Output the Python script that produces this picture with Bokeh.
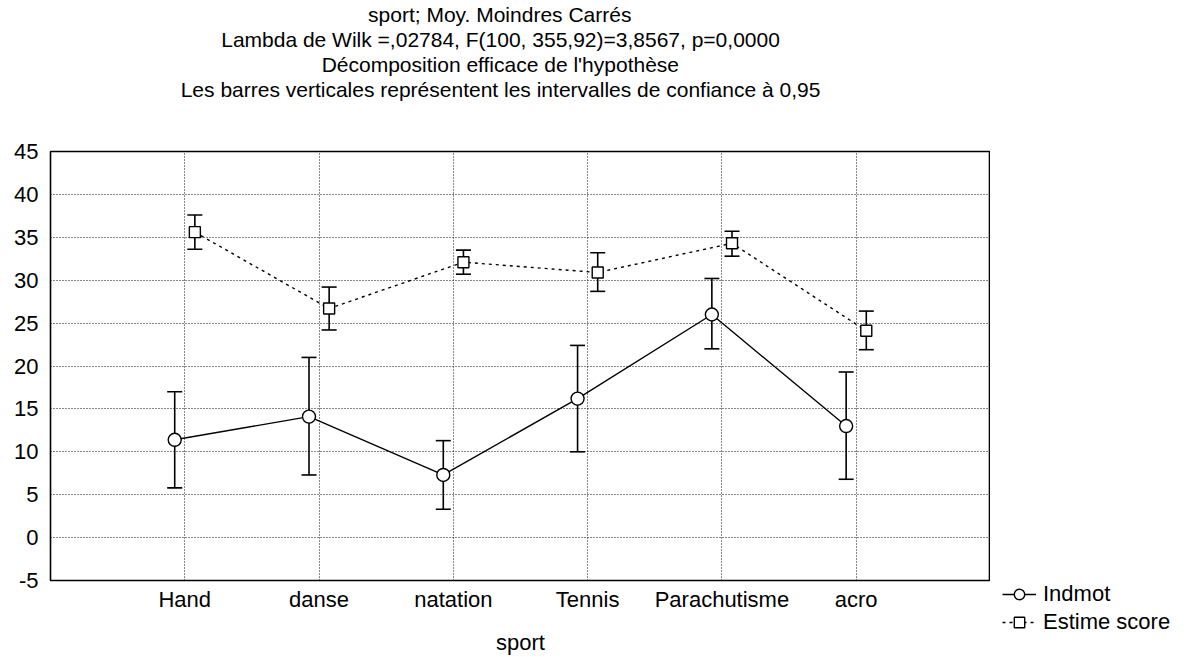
from bokeh.plotting import figure
from bokeh.layouts import row, column
from bokeh.models import (Range1d, ColumnDataSource, Whisker, TeeHead, Legend,
                          LegendItem, Title, FixedTicker)
from bokeh.embed import file_html
from bokeh.resources import INLINE

# ---- data ----
sports = ["Hand", "danse", "natation", "Tennis", "Parachutisme", "acro"]
indmot_mean = [11.4, 14.1, 7.3, 16.2, 26.0, 13.0]
indmot_low = [5.8, 7.3, 3.3, 10.0, 22.0, 6.8]
indmot_high = [17.0, 21.0, 11.3, 22.4, 30.2, 19.3]
estime_mean = [35.6, 26.7, 32.1, 30.9, 34.3, 24.1]
estime_low = [33.6, 24.2, 30.7, 28.7, 32.8, 21.9]
estime_high = [37.6, 29.2, 33.5, 33.2, 35.7, 26.4]
y_ticks = [-5, 0, 5, 10, 15, 20, 25, 30, 35, 40, 45]
series_names = ["Indmot", "Estime score"]
title_lines = [
    "sport; Moy. Moindres Carrés",
    "Lambda de Wilk =,02784, F(100, 355,92)=3,8567, p=0,0000",
    "Décomposition efficace de l'hypothèse",
    "Les barres verticales représentent les intervalles de confiance à 0,95",
]

FONT = "Liberation Sans"
FS = "22px"
TFS_PX = 21
TFS = f"{TFS_PX}px"
pos = [i + 1 for i in range(len(sports))]
shift = 0.075

# Arial / Liberation Sans advance widths (1/1000 em), used to centre titles
_W = {c: 556 for c in "abdeghnopqu0123456789éèà"}
_W.update({c: 500 for c in "cksvxyz"})
_W.update({c: 222 for c in "ijl"})
_W.update({"f": 278, "t": 278, "r": 333, "m": 833, "w": 722, " ": 278,
           ";": 278, ".": 278, ",": 278, "=": 584, "(": 333, ")": 333,
           "'": 191, "L": 556, "M": 833, "C": 722, "D": 722, "F": 611,
           "W": 944})


def text_width(s, px):
    return sum(_W.get(ch, 556) for ch in s) * px / 1000.0


FRAME_LEFT = 50
TITLE_CENTER = 500

src_ind = ColumnDataSource(dict(x=[p - shift for p in pos], y=indmot_mean,
                                lo=indmot_low, hi=indmot_high))
src_est = ColumnDataSource(dict(x=[p + shift for p in pos], y=estime_mean,
                                lo=estime_low, hi=estime_high))
sources = [src_ind, src_est]

p = figure(width=990, height=657, output_backend="svg", toolbar_location=None,
           x_range=Range1d(0, 7), y_range=Range1d(-5, 45),
           min_border_left=FRAME_LEFT, min_border_right=0, min_border_bottom=74,
           min_border_top=0, title=title_lines[0])


def title_offset(s):
    return TITLE_CENTER - text_width(s, TFS_PX) / 2 - FRAME_LEFT


p.title.align = "left"
p.title.offset = title_offset(title_lines[0])
p.title.text_font = FONT
p.title.text_font_size = TFS
p.title.text_font_style = "normal"
p.title.text_color = "black"
p.title.standoff = 0
# titles added to "above" stack outward from the frame: spacer first
p.add_layout(Title(text=" ", text_font_size="44px", standoff=0), "above")
for line in reversed(title_lines[1:]):
    p.add_layout(Title(text=line, align="left", offset=title_offset(line),
                       text_font=FONT, text_font_size=TFS, text_color="black",
                       text_font_style="normal", standoff=0), "above")

p.outline_line_color = "black"
p.outline_line_width = 1.6
p.background_fill_color = "white"
p.border_fill_color = "white"

# grids
for g in (p.xgrid, p.ygrid):
    g.grid_line_color = "#111111"
    g.grid_line_dash = "1 2"
    g.grid_line_width = 1
p.ygrid.ticker = FixedTicker(ticks=y_ticks)
p.xgrid.ticker = FixedTicker(ticks=pos)

# axes
p.yaxis.ticker = FixedTicker(ticks=y_ticks)
p.xaxis.ticker = FixedTicker(ticks=pos)
p.xaxis.major_label_overrides = {pp: s for pp, s in zip(pos, sports)}
p.yaxis.major_label_overrides = {t: str(t) for t in y_ticks}
for ax in (p.xaxis, p.yaxis):
    ax.major_tick_in = 0
    ax.major_tick_out = 0
    ax.minor_tick_in = 0
    ax.minor_tick_out = 0
    ax.axis_line_color = None
    ax.major_label_text_font = FONT
    ax.major_label_text_font_size = FS
    ax.major_label_text_color = "black"
p.yaxis.major_label_standoff = 12
p.xaxis.major_label_standoff = 6
p.xaxis.axis_label = "sport"
p.xaxis.axis_label_text_font = FONT
p.xaxis.axis_label_text_font_size = FS
p.xaxis.axis_label_text_font_style = "normal"
p.xaxis.axis_label_text_color = "black"
p.xaxis.axis_label_standoff = 15

# error bars
for src in sources:
    w = Whisker(source=src, base="x", lower="lo", upper="hi", line_color="black",
                line_width=1.6,
                upper_head=TeeHead(size=15, line_color="black", line_width=1.6),
                lower_head=TeeHead(size=15, line_color="black", line_width=1.6))
    p.add_layout(w)

# lines and markers
line_kw = [dict(line_dash="solid"), dict(line_dash="3 4")]
markers = ["circle", "square"]
sizes = [13, 11]
for src, kw, mk, sz in zip(sources, line_kw, markers, sizes):
    p.line("x", "y", source=src, line_color="black", line_width=1.4, **kw)
    p.scatter("x", "y", source=src, marker=mk, size=sz,
              fill_color="white", line_color="black", line_width=1.4)

# ---- legend panel (separate figure to the right of the frame) ----
# its ranges lie away from the data, so its renderers only feed the legend keys
lg = figure(width=196, height=657, output_backend="svg", toolbar_location=None,
            x_range=Range1d(100, 101), y_range=Range1d(100, 101),
            x_axis_location=None, y_axis_location=None,
            min_border_left=0, min_border_right=0, min_border_top=0,
            min_border_bottom=0)
lg.grid.visible = False
lg.outline_line_color = None
lg.background_fill_color = "white"
lg.border_fill_color = "white"
items = []
for name, src, kw, mk, sz in zip(series_names, sources, line_kw, markers, sizes):
    r1 = lg.line("x", "y", source=src, line_color="black", line_width=1.4, **kw)
    r2 = lg.scatter("x", "y", source=src, marker=mk, size=sz,
                    fill_color="white", line_color="black", line_width=1.4)
    items.append(LegendItem(label=name, renderers=[r1, r2]))
legend = Legend(items=items, location=(12, 22), border_line_color=None,
                background_fill_alpha=0, label_text_font=FONT,
                label_text_font_size=FS, label_text_color="black",
                glyph_width=34, glyph_height=26,
                label_standoff=7, spacing=2, padding=0, margin=0)
lg.add_layout(legend, "center")

layout = row(column(p), column(lg), spacing=0)
open("out.html", "w").write(file_html(layout, INLINE))
